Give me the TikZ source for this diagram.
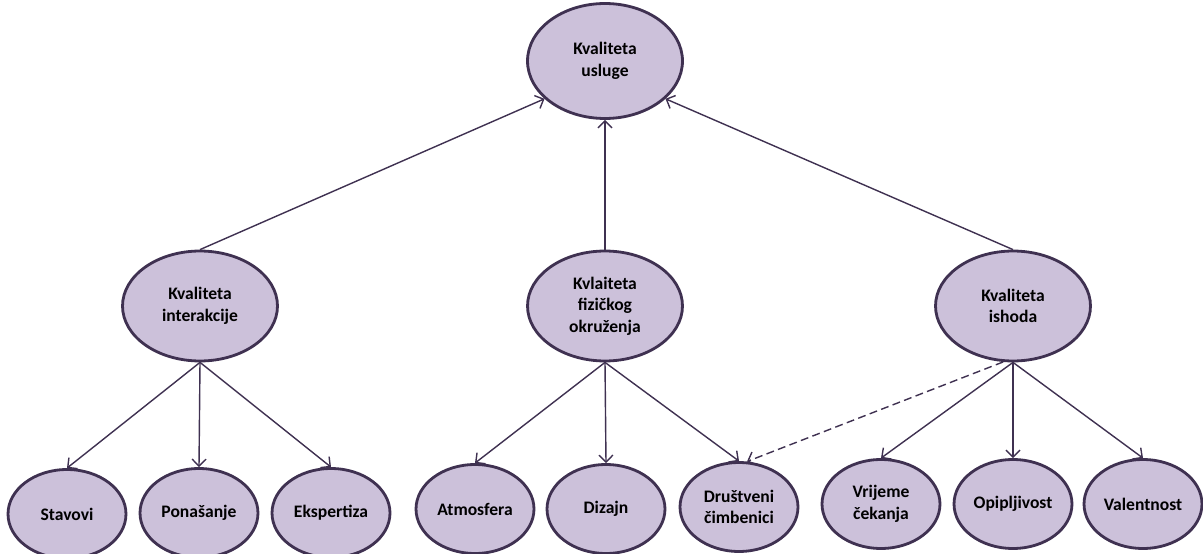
\documentclass[tikz,border=0pt]{standalone}
\usepackage{fontspec}
\setmainfont{Carlito}
\usetikzlibrary{shapes,arrows.meta,positioning}
\definecolor{lavanda}{HTML}{CCC1DA}
\definecolor{tamna}{HTML}{3F3151}

\begin{document}
\begin{tikzpicture}[x=0.02cm,y=-0.02cm,
  oval/.style={ellipse,draw=tamna,line width=1.6pt,fill=lavanda,inner sep=0pt,align=center,font=\bfseries\fontsize{10}{12.2}\selectfont},
  veliki/.style={oval,minimum width=3.1cm,minimum height=2.2cm},
  mali/.style={oval,minimum width=2.36cm,minimum height=1.78cm},
  veza/.style={draw=tamna,line width=0.8pt,-{Straight Barb[length=4pt,width=8pt]}}]

\useasboundingbox (0,0) rectangle (1203,554);

\node[veliki,minimum height=2.3cm] (usluge) at (605,61) {Kvaliteta\\usluge};

\node[veliki] (interakcija) at (200,306) {Kvaliteta\\interakcije};
\node[veliki] (okruzenje) at (605,306) {Kvlaiteta\\fizičkog\\okruženja};
\node[veliki] (ishod) at (1013,306) {Kvaliteta\\ishoda};

\node[mali] (stavovi) at (67,514) {Stavovi};
\node[mali] (ponasanje) at (199,513) {Ponašanje};
\node[mali] (ekspertiza) at (331,513) {Ekspertiza};

\node[mali] (atmosfera) at (475,509) {Atmosfera};
\node[mali] (dizajn) at (606,509) {Dizajn};
\node[mali] (drustveni) at (739,507) {Društveni\\čimbenici};

\node[mali] (cekanje) at (881,504) {Vrijeme\\čekanja};
\node[mali] (opipljivost) at (1013,504) {Opipljivost};
\node[mali] (valentnost) at (1143,504) {Valentnost};

\draw[veza] (interakcija.north) -- (usluge.212);
\draw[veza] (okruzenje) -- (usluge);
\draw[veza] (ishod.north) -- (usluge.328);

\draw[veza] (interakcija.south) -- (stavovi.north);
\draw[veza] (interakcija.south) -- (ponasanje.north);
\draw[veza] (interakcija.south) -- (ekspertiza.north);

\draw[veza] (okruzenje.south) -- (atmosfera.north);
\draw[veza] (okruzenje.south) -- (dizajn.north);
\draw[veza] (okruzenje.south) -- (drustveni.north);

\draw[veza] (ishod.south) -- (cekanje.north);
\draw[veza] (ishod.south) -- (opipljivost.north);
\draw[veza] (ishod.south) -- (valentnost.north);
\draw[veza,dash pattern=on 4.5pt off 2.5pt] (ishod.260) -- (drustveni.80);

\end{tikzpicture}
\end{document}
